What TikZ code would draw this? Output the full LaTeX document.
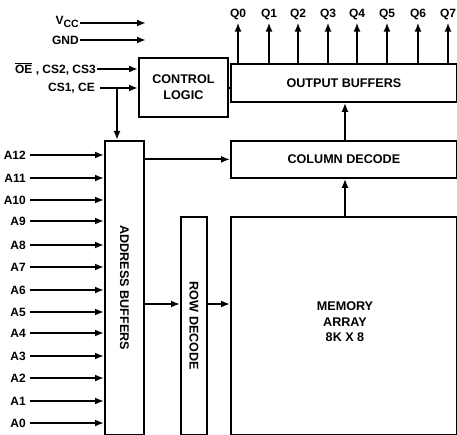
\documentclass[tikz,border=0pt]{standalone}
\usepackage{fontspec}
\setmainfont{Liberation Sans}
\usetikzlibrary{arrows.meta}
\begin{document}
\begin{tikzpicture}[x=1pt,y=-1pt,
  font=\fontsize{12}{14}\selectfont\bfseries,
  blk/.style={draw, line width=1.8pt, rectangle, anchor=north west, inner sep=0pt, align=center,
    font=\fontsize{12.6}{16}\selectfont\bfseries},
  rot/.style={rotate=-90, font=\fontsize{12.6}{16}\selectfont\bfseries},
  lbl/.style={inner sep=1pt},
  wire/.style={line width=1.8pt},
  arr/.style={wire, -{Latex[length=9pt,width=7pt]}}]
\useasboundingbox (0,0) rectangle (457,435);
% blocks
\node[blk, minimum width=89pt, minimum height=59pt] (ctrl) at (138,57) {CONTROL\\LOGIC};
\node[blk, minimum width=226pt, minimum height=38pt] (outbuf) at (230,63) {OUTPUT BUFFERS};
\node[blk, minimum width=226pt, minimum height=37pt] (coldec) at (230,140) {COLUMN DECODE};
\node[blk, minimum width=39pt, minimum height=294pt] (addr) at (104,140) {};
\node[rot] (addrtxt) at (addr.center) {ADDRESS BUFFERS};
\node[blk, minimum width=26pt, minimum height=218pt] (rowdec) at (180,216) {};
\node[rot] (rowtxt) at (rowdec.center) {ROW DECODE};
\node[blk, minimum width=226pt, minimum height=218pt] (mem) at (230,216) {};
\node[align=center, font=\fontsize{12.6}{15.5}\selectfont\bfseries] (memtxt) at (345,322) {MEMORY\\ARRAY\\8K X 8};
% supply inputs
\node[lbl, anchor=east] (vcc) at (80,22) {V\raisebox{-3pt}{\fontsize{10.5}{10}\selectfont CC}};
\coordinate (vccend) at (146,23);
\draw[arr] (vcc.east |- vccend) -- (vccend);
\node[lbl, anchor=east] (gnd) at (80,40) {GND};
\coordinate (gndend) at (146,40);
\draw[arr] (gnd.east) -- (gndend);
% control inputs
\node[lbl, anchor=east] (oe) at (97,69) {$\overline{\hbox{OE}}$ , CS2, CS3};
\draw[arr] (oe.east) -- (oe.east -| ctrl.west);
\node[lbl, anchor=east] (cs) at (96,88) {CS1, CE};
\draw[arr] ([xshift=4pt]cs.east) -- (cs.east -| ctrl.west);
\coordinate (br) at (117,88);
\draw[arr] (br) -- (br |- addr.north);
\draw[wire] (ctrl.east |- br) -- (outbuf.west |- br);
% outputs
\foreach \i/\x in {0/238,1/269,2/298,3/328,4/357,5/387,6/418,7/448}{
  \node[lbl] (q\i) at (\x,14) {Q\i};
  \draw[arr] (outbuf.north -| q\i) -- ([yshift=-2pt]q\i.south);
}
% address inputs
\foreach \n/\y in {12/155,11/178,10/200,9/221,8/245,7/267,6/290,5/312,4/333,3/356,2/378,1/401,0/423}{
  \node[lbl, anchor=east] (a\n) at (27,\y) {A\n};
  \draw[arr] ([xshift=3pt]a\n.east) -- (a\n.east -| addr.west);
}
% internal connections
\draw[arr] (coldec.west -| addr.east) -- (coldec.west);
\coordinate (rowy) at (0,304);
\draw[arr] (addr.east |- rowy) -- (rowdec.west |- rowy);
\draw[arr] (rowdec.east |- rowy) -- (mem.west |- rowy);
\coordinate (colx) at (345,0);
\draw[arr] (mem.north -| colx) -- (coldec.south -| colx);
\draw[arr] (coldec.north -| colx) -- (outbuf.south -| colx);
\end{tikzpicture}
\end{document}
